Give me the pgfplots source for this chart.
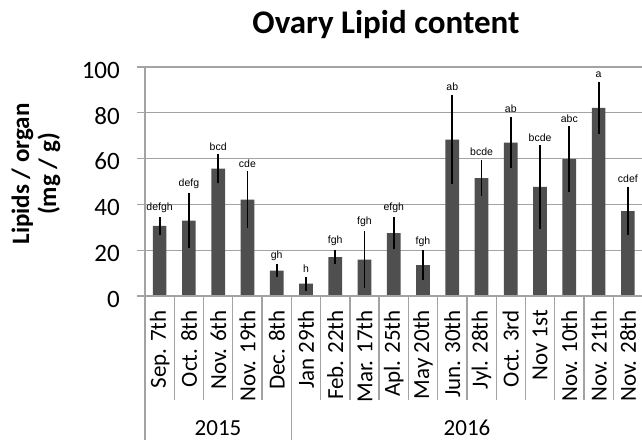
\documentclass[border=0pt]{standalone}
\usepackage{pgfplots}
\pgfplotsset{compat=1.18}
\usepackage{pgfplotstable}
\usepackage{fontspec}
\setmainfont{Carlito}
\newfontfamily\arialf{Liberation Sans}
\definecolor{barc}{HTML}{4F4F4F}
\definecolor{gridc}{HTML}{A3A3A3}

\pgfplotstableread{
x y err letter
0 30.6 4.0 defgh
1 32.9 12.0 defg
2 55.6 6.2 bcd
3 42.1 12.3 cde
4 11.1 2.7 gh
5 5.4 3.0 h
6 17.0 3.1 fgh
7 15.9 12.4 fgh
8 27.5 7.0 efgh
9 13.5 6.4 fgh
10 68.3 19.5 ab
11 51.5 7.8 bcde
12 67.0 11.2 ab
13 47.6 18.2 bcde
14 59.8 14.3 abc
15 82.1 11.4 a
16 37.1 10.5 cdef
}\data

\begin{document}
\begin{tikzpicture}[x=1pt,y=1pt]
\path[use as bounding box] (0,0) rectangle (642,440);
\begin{axis}[
  at={(145pt,144pt)}, anchor=south west,
  scale only axis, width=497.5pt, height=229pt,
  xmin=-0.5, xmax=16.5, ymin=0, ymax=100,
  axis line style={draw=none},
  clip=false,
  ytick={0,20,...,100},
  ymajorgrids, grid style={gridc, line width=1.3pt},
  tick align=inside, major tick length=0pt,
  tick style={draw=none},
  xtick={0,...,16},
  xticklabels={Sep. 7th,Oct. 8th,Nov. 6th,Nov. 19th,Dec. 8th,Jan 29th,Feb. 22th,Mar. 17th,Apl. 25th,May 20th,Jun. 30th,Jyl. 28th,Oct. 3rd,Nov 1st,Nov. 10th,Nov. 21th,Nov. 28th},
  xticklabel style={rotate=90, anchor=east, inner sep=0pt, font=\fontsize{23}{26}\selectfont},
  xticklabel shift=14pt,
  yticklabel style={anchor=east, inner sep=0pt, font=\fontsize{25}{29}\selectfont, yshift=-3pt},
  yticklabel shift=25pt,
  /pgf/number format/assume math mode=true,
]
\addplot[ybar, bar width=13.7pt, fill=barc, draw=none,
  error bars/.cd, y dir=both, y explicit,
  error bar style={black, line width=1.8pt}, error mark=none]
  table[x=x, y=y, y error=err]{\data};
\addplot[draw=none, mark=none, nodes near coords, point meta=explicit symbolic,
  every node near coord/.style={font=\arialf\fontsize{10.5}{12}\selectfont, anchor=south, inner sep=0pt, yshift=4pt, black}]
  table[x=x, y expr=\thisrow{y}+\thisrow{err}, meta=letter]{\data};
\end{axis}
% frame lines and y tick marks
\draw[gridc, line width=1.3pt] (137,144) -- (642,144);
\draw[gridc, line width=1.3pt] (145,373) -- (145,0);
\foreach \t in {1,...,5} {
  \draw[gridc, line width=1.3pt] (137,{144+\t*45.8}) -- (145,{144+\t*45.8});
}
\foreach \k in {1,...,16} {
  \draw[gridc, line width=1.3pt] ({145+\k*29.265},144) -- ({145+\k*29.265},40);
}
\draw[gridc, line width=1.3pt] ({145+5*29.265},40) -- ({145+5*29.265},0);
% year labels
\node[font=\fontsize{23}{26}\selectfont, anchor=base, inner sep=0pt] at (218,4.5) {2015};
\node[font=\fontsize{23}{26}\selectfont, anchor=base, inner sep=0pt] at (467,4.5) {2016};
% title
\node[font=\bfseries\fontsize{33}{38}\selectfont, anchor=base] at (386,406.7) {Ovary Lipid content};
% y label
\node[font=\bfseries\fontsize{25}{27}\selectfont, rotate=90, align=center] at (36,266) {Lipids / organ\\(mg / g)};
\end{tikzpicture}
\end{document}
